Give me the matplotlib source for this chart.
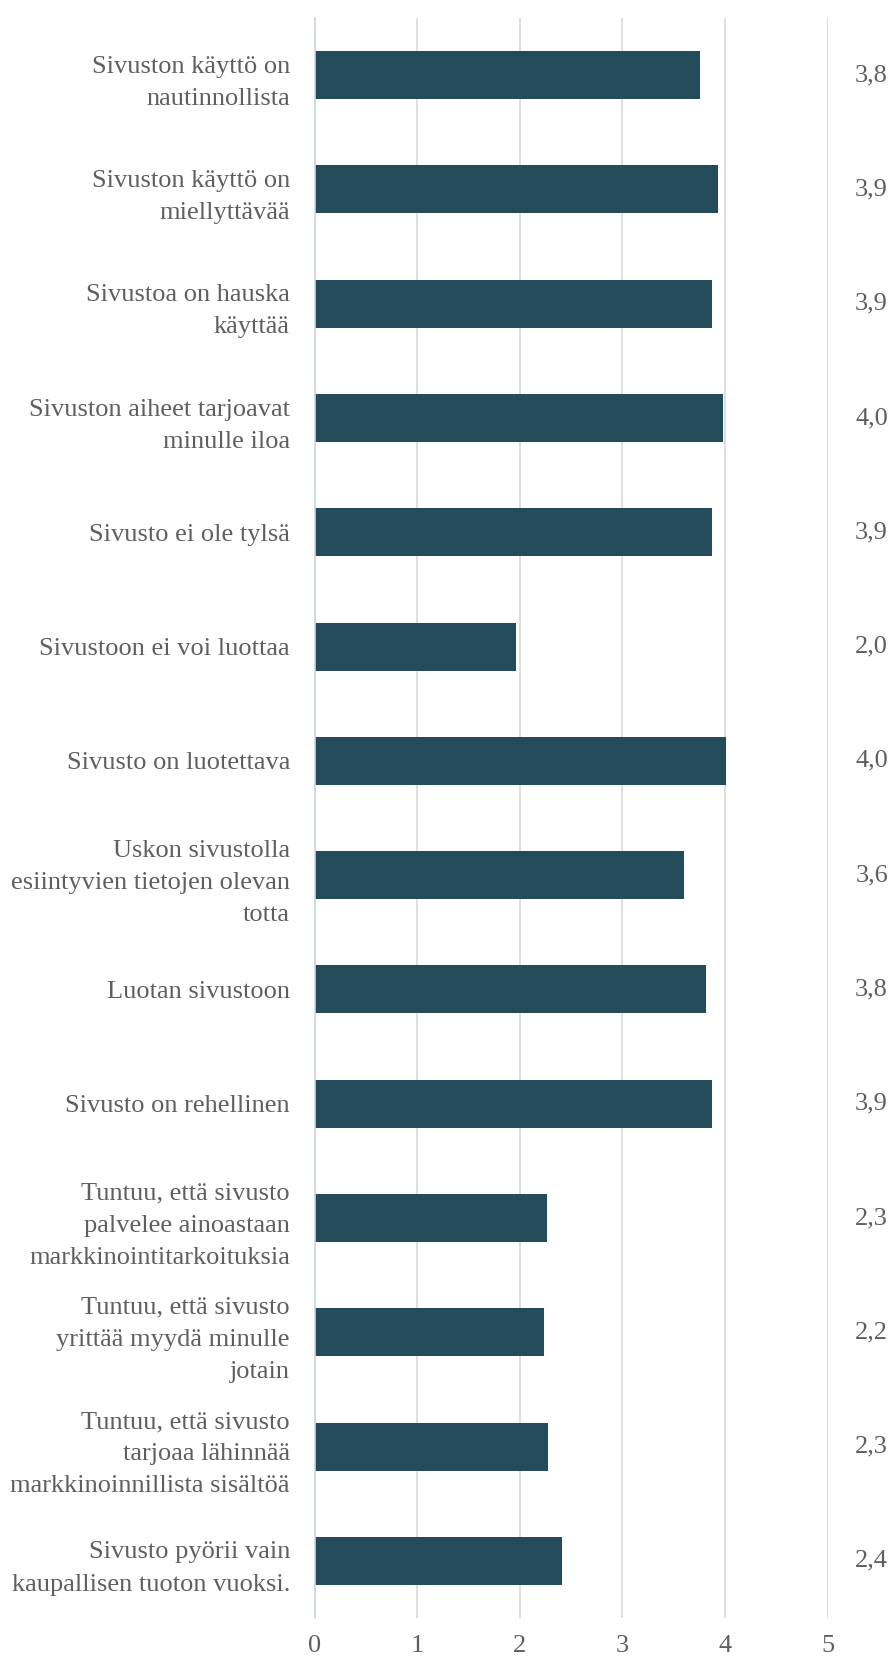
import numpy as np
from matplotlib import pyplot as plt

# survey statements (top to bottom) and their mean scores
statements = [
    'Sivuston käyttö on\nnautinnollista',
    'Sivuston käyttö on\nmiellyttävää',
    'Sivustoa on hauska\nkäyttää',
    'Sivuston aiheet tarjoavat\nminulle iloa',
    'Sivusto ei ole tylsä',
    'Sivustoon ei voi luottaa',
    'Sivusto on luotettava',
    'Uskon sivustolla\nesiintyvien tietojen olevan\ntotta',
    'Luotan sivustoon',
    'Sivusto on rehellinen',
    'Tuntuu, että sivusto\npalvelee ainoastaan\nmarkkinointitarkoituksia',
    'Tuntuu, että sivusto\nyrittää myydä minulle\njotain',
    'Tuntuu, että sivusto\ntarjoaa lähinnää\nmarkkinoinnillista sisältöä',
    'Sivusto pyörii vain\nkaupallisen tuoton vuoksi.',
]
means = [3.76, 3.93, 3.87, 3.98, 3.87, 1.96, 4.01, 3.60, 3.81, 3.87, 2.26, 2.23, 2.27, 2.41]
x_ticks = [0, 1, 2, 3, 4, 5]

bar_color = '#244b5a'
text_color = '#5f5f5f'
grid_color = '#d9d9d9'

plt.rcParams['font.family'] = ['Liberation Serif', 'DejaVu Serif']

fig = plt.figure(figsize=(8.92, 16.57), dpi=100)
ax = fig.add_axes([0.3531, 0.0235, 0.5746, 0.9656])

y = np.arange(len(statements))
ax.barh(y, means, height=0.42, color=bar_color, zorder=3)

ax.set_xlim(0, 5)
ax.set_ylim(len(statements) - 0.5, -0.5)
ax.set_xticks(x_ticks)
ax.set_xticklabels([str(t) for t in x_ticks])
ax.set_yticks(y)
ax.set_yticklabels(statements, linespacing=1.6)

ax.tick_params(axis='y', length=0, pad=18, labelsize=19, labelcolor=text_color)
ax.tick_params(axis='x', length=0, pad=12, labelsize=19, labelcolor=text_color)

ax.xaxis.grid(True, color=grid_color, linewidth=1.2, zorder=0)
for side in ('top', 'right', 'bottom'):
    ax.spines[side].set_visible(False)
ax.spines['left'].set_color('#c9d5ea')
ax.spines['left'].set_linewidth(1.2)
ax.spines['left'].set_zorder(4)

# mean values in a column to the right of the plot
for yi, m in zip(y, means):
    ax.text(5.43, yi, f'{m:.1f}'.replace('.', ','), ha='center', va='center',
            fontsize=19, color=text_color, clip_on=False)

fig.savefig('out.png', dpi=100)
